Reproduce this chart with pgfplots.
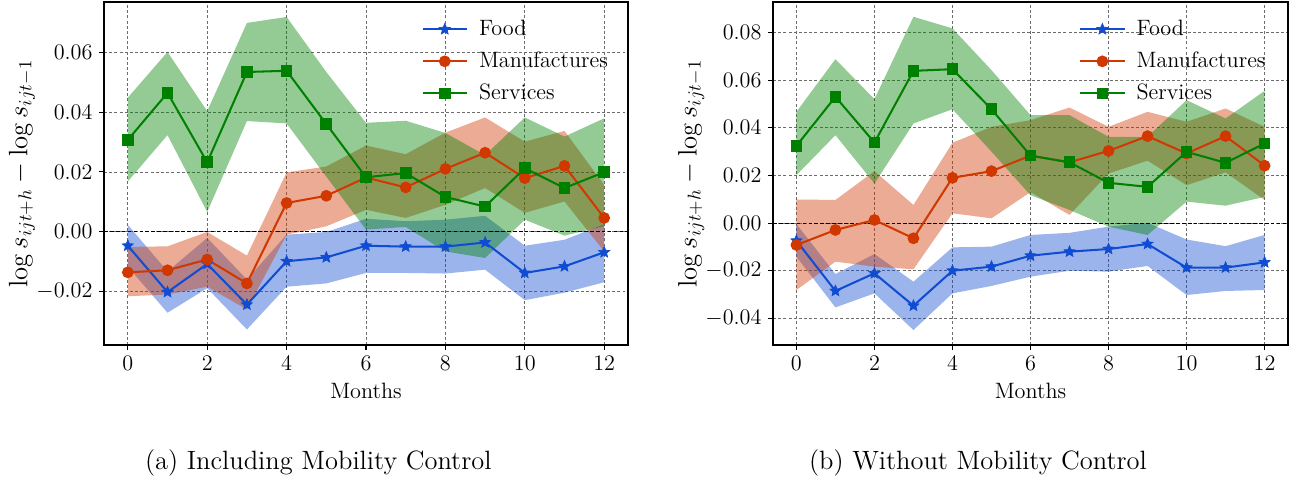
\documentclass[border=0pt]{standalone}
\usepackage{pgfplots}
\pgfplotsset{compat=1.18}
\usepackage{pgfplotstable}
\usepgfplotslibrary{fillbetween}

\definecolor{foodc}{RGB}{16,76,210}
\definecolor{manc}{RGB}{208,56,0}
\definecolor{serc}{RGB}{0,128,0}

\newdimen\starin
\pgfdeclareplotmark{fstar}{%
  \starin=0.45\pgfplotmarksize
  \pgfpathmoveto{\pgfpointpolar{90}{\pgfplotmarksize}}%
  \pgfpathlineto{\pgfpointpolar{126}{\starin}}%
  \pgfpathlineto{\pgfpointpolar{162}{\pgfplotmarksize}}%
  \pgfpathlineto{\pgfpointpolar{198}{\starin}}%
  \pgfpathlineto{\pgfpointpolar{234}{\pgfplotmarksize}}%
  \pgfpathlineto{\pgfpointpolar{270}{\starin}}%
  \pgfpathlineto{\pgfpointpolar{306}{\pgfplotmarksize}}%
  \pgfpathlineto{\pgfpointpolar{342}{\starin}}%
  \pgfpathlineto{\pgfpointpolar{18}{\pgfplotmarksize}}%
  \pgfpathlineto{\pgfpointpolar{54}{\starin}}%
  \pgfpathclose
  \pgfusepathqfillstroke}

% x y lo hi
\pgfplotstableread{
x y lo hi
0 -0.0047 -0.0117 0.0023
1 -0.0202 -0.0271 -0.0133
2 -0.0108 -0.0189 -0.0021
3 -0.0244 -0.0327 -0.0160
4 -0.0099 -0.0184 -0.0010
5 -0.0086 -0.0173 -0.0001
6 -0.0047 -0.0138 0.0043
7 -0.0050 -0.0138 0.0035
8 -0.0050 -0.0140 0.0040
9 -0.0036 -0.0127 0.0053
10 -0.0138 -0.0229 -0.0047
11 -0.0116 -0.0204 -0.0027
12 -0.0069 -0.0169 0.0025
}\foodA
\pgfplotstableread{
x y lo hi
0 -0.0136 -0.0216 -0.0051
1 -0.0129 -0.0210 -0.0049
2 -0.0093 -0.0184 -0.0001
3 -0.0173 -0.0260 -0.0080
4 0.0096 -0.0010 0.0198
5 0.0120 0.0018 0.0218
6 0.0181 0.0073 0.0288
7 0.0148 0.0046 0.0259
8 0.0210 0.0090 0.0331
9 0.0264 0.0146 0.0382
10 0.0179 0.0063 0.0301
11 0.0220 0.0101 0.0337
12 0.0046 -0.0066 0.0156
}\manA
\pgfplotstableread{
x y lo hi
0 0.0307 0.0168 0.0448
1 0.0464 0.0323 0.0601
2 0.0232 0.0066 0.0403
3 0.0534 0.0370 0.0698
4 0.0538 0.0362 0.0718
5 0.0360 0.0184 0.0534
6 0.0182 0.0007 0.0364
7 0.0196 0.0016 0.0371
8 0.0116 -0.0066 0.0330
9 0.0084 -0.0088 0.0256
10 0.0212 0.0040 0.0382
11 0.0146 -0.0013 0.0318
12 0.0199 0.0018 0.0379
}\serA
\pgfplotstableread{
x y lo hi
0 -0.0074 -0.0141 -0.0004
1 -0.0285 -0.0354 -0.0214
2 -0.0211 -0.0295 -0.0130
3 -0.0347 -0.0449 -0.0246
4 -0.0200 -0.0295 -0.0102
5 -0.0183 -0.0264 -0.0099
6 -0.0137 -0.0225 -0.0050
7 -0.0120 -0.0200 -0.0041
8 -0.0109 -0.0204 -0.0015
9 -0.0088 -0.0180 0.0001
10 -0.0187 -0.0302 -0.0069
11 -0.0187 -0.0285 -0.0097
12 -0.0165 -0.0281 -0.0050
}\foodB
\pgfplotstableread{
x y lo hi
0 -0.0092 -0.0281 0.0099
1 -0.0029 -0.0162 0.0097
2 0.0013 -0.0183 0.0218
3 -0.0064 -0.0194 0.0076
4 0.0190 0.0041 0.0337
5 0.0218 0.0020 0.0404
6 0.0283 0.0130 0.0432
7 0.0255 0.0034 0.0485
8 0.0303 0.0208 0.0404
9 0.0365 0.0262 0.0467
10 0.0292 0.0159 0.0425
11 0.0365 0.0213 0.0481
12 0.0241 0.0097 0.0404
}\manB
\pgfplotstableread{
x y lo hi
0 0.0324 0.0201 0.0467
1 0.0530 0.0369 0.0688
2 0.0338 0.0166 0.0520
3 0.0639 0.0418 0.0866
4 0.0646 0.0478 0.0817
5 0.0478 0.0300 0.0642
6 0.0283 0.0117 0.0453
7 0.0255 0.0055 0.0453
8 0.0169 -0.0015 0.0362
9 0.0152 -0.0050 0.0362
10 0.0299 0.0090 0.0516
11 0.0253 0.0073 0.0439
12 0.0334 0.0110 0.0555
}\serB

\pgfplotsset{
  myaxis/.style={
    scale only axis,
    anchor=north west,
    height=185.22pt,
    xmin=-0.6, xmax=12.6,
    xtick={0,2,...,12},
    tick align=outside,
    tick pos=left,
    major tick length=2.7pt,
    axis line style={line width=0.6pt},
    every tick/.style={black, line width=0.6pt},
    grid=major,
    major grid style={gray!85!black, dash pattern=on 1.6pt off 1.2pt, line width=0.35pt},
    scaled y ticks=false,
    yticklabel style={/pgf/number format/.cd, fixed, fixed zerofill, precision=2},
    tick label style={font=\fontsize{11.5}{13}\selectfont},
    xlabel={Months},
    xlabel style={font=\fontsize{12}{14}\selectfont, at={(axis description cs:0.5,0)}, anchor=center, yshift=-24.8pt},
    ylabel={$\log s_{ijt+h}-\log s_{ijt-1}$},
    legend cell align=left,
    legend style={draw=none, fill=none, font=\fontsize{12}{14}\selectfont,
      anchor=north east, row sep=3.4pt, inner xsep=3pt, inner ysep=3pt,
      /tikz/every odd column/.append style={column sep=4pt}},
    legend image code/.code={%
      \draw[mark repeat=2,mark phase=2] plot coordinates {(0cm,0cm) (0.42cm,0cm) (0.84cm,0cm)};},
  },
  band/.style={draw=none, fill=#1, fill opacity=0.42, forget plot},
  fline/.style={foodc, line width=1.1pt, mark=fstar, mark size=3.1pt, mark options={fill=foodc, line width=0.4pt}},
  mline/.style={manc, line width=1.1pt, mark=*, mark size=2.6pt, mark options={fill=manc}},
  sline/.style={serc, line width=1.1pt, mark=square*, mark size=2.6pt, mark options={fill=serc}},
}

\begin{document}
\begin{tikzpicture}
\path (0,0) rectangle (698.76pt,-260.82pt);

\begin{axis}[myaxis, at={(56.16pt,-1.08pt)}, width=282.96pt,
  ymin=-0.0379, ymax=0.0768, ytick={-0.02,0,0.02,0.04,0.06},
  ylabel style={font=\fontsize{13.8}{15}\selectfont, at={(axis description cs:-0.1565,0.5)}, anchor=center},
  legend style={at={(axis description cs:0.98,0.975)}}]
  \addplot[name path=fl, draw=none, forget plot] table[x=x,y=lo]{\foodA};
  \addplot[name path=fh, draw=none, forget plot] table[x=x,y=hi]{\foodA};
  \addplot[band=foodc] fill between[of=fl and fh];
  \addplot[name path=ml, draw=none, forget plot] table[x=x,y=lo]{\manA};
  \addplot[name path=mh, draw=none, forget plot] table[x=x,y=hi]{\manA};
  \addplot[band=manc] fill between[of=ml and mh];
  \addplot[name path=sl, draw=none, forget plot] table[x=x,y=lo]{\serA};
  \addplot[name path=sh, draw=none, forget plot] table[x=x,y=hi]{\serA};
  \addplot[band=serc] fill between[of=sl and sh];
  \addplot[forget plot, black, dash pattern=on 2pt off 1.2pt, line width=0.5pt] coordinates {(-0.6,0) (12.6,0)};
  \addplot[fline] table[x=x,y=y]{\foodA};
  \addlegendentry{Food}
  \addplot[mline] table[x=x,y=y]{\manA};
  \addlegendentry{Manufactures}
  \addplot[sline] table[x=x,y=y]{\serA};
  \addlegendentry{Services}
\end{axis}

\begin{axis}[myaxis, at={(417.42pt,-1.08pt)}, width=278.1pt,
  ymin=-0.0512, ymax=0.0928, ytick={-0.04,-0.02,0,0.02,0.04,0.06,0.08},
  ylabel style={font=\fontsize{13.8}{15}\selectfont, at={(axis description cs:-0.159,0.5)}, anchor=center},
  legend style={at={(axis description cs:0.975,0.975)}}]
  \addplot[name path=fl, draw=none, forget plot] table[x=x,y=lo]{\foodB};
  \addplot[name path=fh, draw=none, forget plot] table[x=x,y=hi]{\foodB};
  \addplot[band=foodc] fill between[of=fl and fh];
  \addplot[name path=ml, draw=none, forget plot] table[x=x,y=lo]{\manB};
  \addplot[name path=mh, draw=none, forget plot] table[x=x,y=hi]{\manB};
  \addplot[band=manc] fill between[of=ml and mh];
  \addplot[name path=sl, draw=none, forget plot] table[x=x,y=lo]{\serB};
  \addplot[name path=sh, draw=none, forget plot] table[x=x,y=hi]{\serB};
  \addplot[band=serc] fill between[of=sl and sh];
  \addplot[forget plot, black, dash pattern=on 2pt off 1.2pt, line width=0.5pt] coordinates {(-0.6,0) (12.6,0)};
  \addplot[fline] table[x=x,y=y]{\foodB};
  \addlegendentry{Food}
  \addplot[mline] table[x=x,y=y]{\manB};
  \addlegendentry{Manufactures}
  \addplot[sline] table[x=x,y=y]{\serB};
  \addlegendentry{Services}
\end{axis}

\node[font=\fontsize{14.3}{16}\selectfont] at (171.9pt,-250pt) {(a) Including Mobility Control};
\node[font=\fontsize{14.3}{16}\selectfont] at (528.1pt,-250pt) {(b) Without Mobility Control};
\end{tikzpicture}
\end{document}
